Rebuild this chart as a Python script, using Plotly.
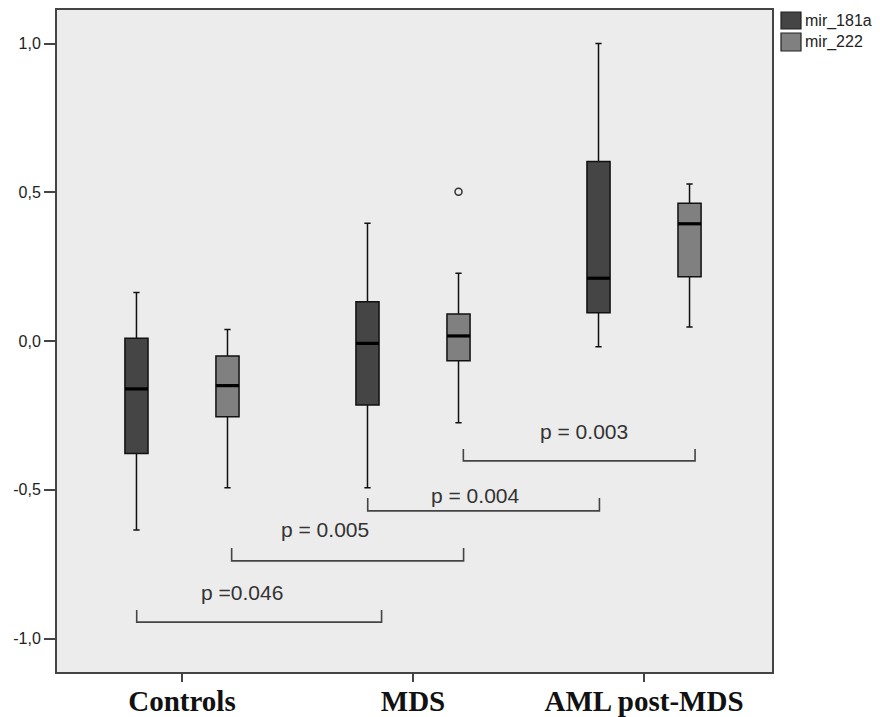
import plotly.graph_objects as go

# ---------------- data ----------------
categories = ["Controls", "MDS", "AML post-MDS"]
series_names = ["mir_181a", "mir_222"]

mir181a_lower = [-0.635, -0.493, -0.019]
mir181a_q1 = [-0.378, -0.215, 0.095]
mir181a_median = [-0.161, -0.008, 0.211]
mir181a_q3 = [0.009, 0.132, 0.603]
mir181a_upper = [0.163, 0.396, 1.000]

mir222_lower = [-0.493, -0.275, 0.047]
mir222_q1 = [-0.255, -0.066, 0.216]
mir222_median = [-0.150, 0.017, 0.394]
mir222_q3 = [-0.050, 0.091, 0.463]
mir222_upper = [0.039, 0.228, 0.528]

mir222_outlier_group = [1]
mir222_outlier_value = [0.502]

ytick_values = [1.0, 0.5, 0.0, -0.5, -1.0]
ytick_labels = ["1,0", "0,5", "0,0", "-0,5", "-1,0"]

p_labels = ["p =0.046", "p = 0.005", "p = 0.004", "p = 0.003"]

# ---------------- layout constants ----------------
OFFSET = 0.197      # half distance between paired boxes (category units)
BOX_W = 0.10        # box width (category units)
colors = ["#454545", "#808080"]

# page body has an 8px margin; figure is sized to fit the window
BODY = 8
FIG_W, FIG_H = 880 - BODY, 717 - BODY
# desired plot-area edges in window pixels
PL, PR, PT, PB = 57, 772, 10, 672

series = [
    (mir181a_lower, mir181a_q1, mir181a_median, mir181a_q3, mir181a_upper),
    (mir222_lower, mir222_q1, mir222_median, mir222_q3, mir222_upper),
]

fig = go.Figure()
for s, (lo, q1, med, q3, hi) in enumerate(series):
    sign = -1 if s == 0 else 1
    pos = [i + sign * OFFSET for i in range(len(categories))]
    fig.add_trace(go.Box(
        name=series_names[s], x=pos, q1=q1, median=med, q3=q3,
        lowerfence=lo, upperfence=hi, width=BOX_W, boxpoints=False,
        fillcolor=colors[s], line=dict(color="#111111", width=1.5),
        whiskerwidth=0.27, showlegend=False,
    ))
    # thick median lines
    mx, my = [], []
    for p, m in zip(pos, med):
        mx += [p - BOX_W / 2, p + BOX_W / 2, None]
        my += [m, m, None]
    fig.add_trace(go.Scatter(x=mx, y=my, mode="lines",
                             line=dict(color="#000000", width=3.2),
                             showlegend=False, hoverinfo="skip"))

# outlier
fig.add_trace(go.Scatter(
    x=[g + OFFSET for g in mir222_outlier_group], y=mir222_outlier_value,
    mode="markers",
    marker=dict(symbol="circle-open", size=7, color="#333333",
                line=dict(width=1.5, color="#333333")),
    showlegend=False,
))

# significance brackets: (x0, x1, y_line, y_tick_top, label_x, label_y)
brackets = [
    (-0.196, 0.864, -0.945, -0.904, 0.26, -0.847),
    (0.215, 1.219, -0.739, -0.696, 0.619, -0.635),
    (0.804, 1.807, -0.571, -0.528, 1.268, -0.518),
    (1.218, 2.221, -0.403, -0.363, 1.74, -0.303),
]
shapes = []
annotations = []
for (x0, x1, yl, yt, lx, ly), txt in zip(brackets, p_labels):
    shapes.append(dict(
        type="path", xref="x", yref="y",
        path=f"M {x0},{yt} L {x0},{yl} L {x1},{yl} L {x1},{yt}",
        line=dict(color="#444444", width=1.6),
    ))
    annotations.append(dict(
        x=lx, y=ly, xref="x", yref="y", text=txt, showarrow=False,
        font=dict(family="Liberation Sans, Arial", size=21, color="#333333"),
    ))

# custom legend (positions given in window pixels)
def px2x(px):
    return (px - PL) / (PR - PL)
def py2y(py):
    return (PB - py) / (PB - PT)

leg_rows = [(12, 29), (33, 51)]
for s, (t, b) in enumerate(leg_rows):
    shapes.append(dict(
        type="rect", xref="paper", yref="paper",
        x0=px2x(781), x1=px2x(801), y0=py2y(b), y1=py2y(t),
        fillcolor=colors[s], line=dict(color="#222222", width=1.2),
    ))
    annotations.append(dict(
        x=px2x(803), y=py2y((t + b) / 2), xref="paper", yref="paper",
        text=series_names[s], showarrow=False, xanchor="left", yanchor="middle",
        font=dict(family="Liberation Sans, Arial", size=16, color="#222222"),
    ))

fig.update_layout(
    width=FIG_W, height=FIG_H,
    margin=dict(l=PL - BODY, r=FIG_W - (PR - BODY), t=PT - BODY,
                b=FIG_H - (PB - BODY), autoexpand=False),
    paper_bgcolor="#ffffff",
    plot_bgcolor="#ececec",
    boxmode="overlay",
    shapes=shapes,
    annotations=annotations,
    showlegend=False,
)
fig.update_xaxes(
    automargin=False,
    range=[-0.541, 2.554], tickmode="array", tickvals=list(range(len(categories))),
    ticktext=[f"<b>{c}</b>" for c in categories], ticks="outside", ticklen=8, tickwidth=1.5,
    ticklabelstandoff=-6,
    tickcolor="#444444", showgrid=False, zeroline=False,
    showline=True, linecolor="#444444", linewidth=2, mirror=True,
    tickfont=dict(family="Liberation Serif, Times New Roman", size=29, color="#111111"),
)
fig.update_yaxes(
    automargin=False,
    range=[-1.1126, 1.1126], tickmode="array", tickvals=ytick_values,
    ticktext=ytick_labels, ticks="outside", ticklen=11, tickwidth=1.5,
    tickcolor="#444444", showgrid=False, zeroline=False,
    showline=True, linecolor="#444444", linewidth=2, mirror=True,
    tickfont=dict(family="Liberation Sans, Arial", size=16, color="#222222"),
)

fig.write_html("out.html")
